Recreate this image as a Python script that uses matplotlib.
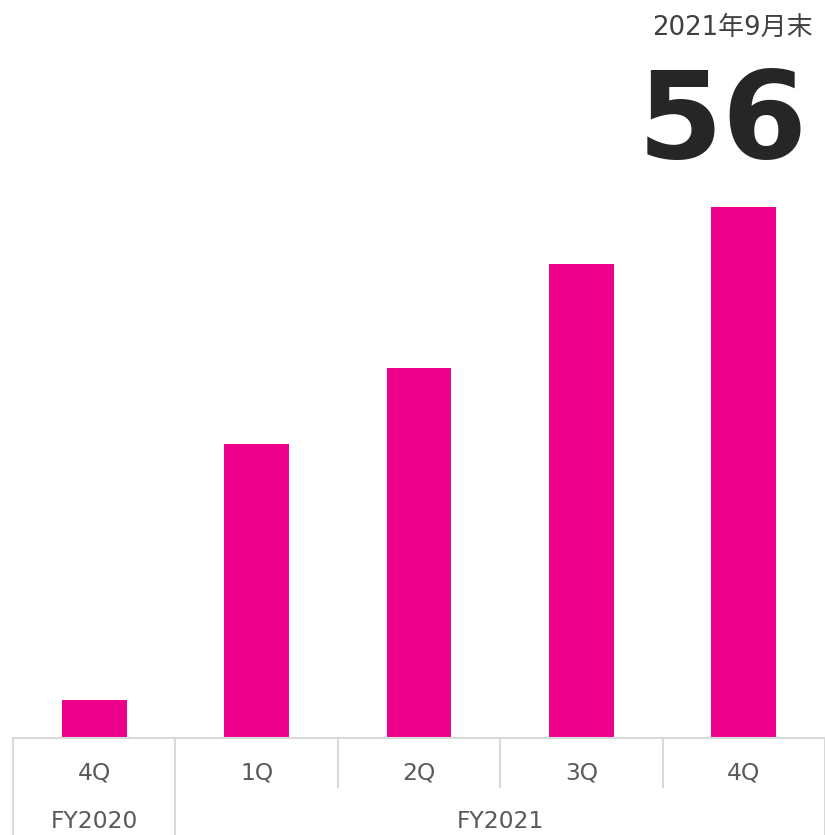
import matplotlib
matplotlib.use("Agg")
import matplotlib.pyplot as plt
from matplotlib.lines import Line2D

quarters = ["4Q", "1Q", "2Q", "3Q", "4Q"]
fiscal_years = ["FY2020", "FY2021"]
year_groups = [[0], [1, 2, 3, 4]]
values = [4, 31, 39, 50, 56]
headline_label = "2021年9月末"
headline_value = "56"

W, H = 825, 835
fig = plt.figure(figsize=(W / 100, H / 100), dpi=100)
ax_left, ax_right = 13, 825
ax_bottom, ax_top = 738, 180
ax = fig.add_axes([ax_left / W, 1 - ax_bottom / H, (ax_right - ax_left) / W, (ax_bottom - ax_top) / H])
ax_h = ax_bottom - ax_top

x = list(range(len(values)))
ax.bar(x, values, width=0.4, color="#EC008C", zorder=2)
ax.set_xlim(-0.5, len(values) - 0.5)
ax.set_ylim(0, 56 * (ax_h / 531))
ax.axis("off")

grid_c = "#d9d9d9"
tr = ax.get_xaxis_transform()
# baseline
ax.add_line(Line2D([-0.5, len(values) - 0.5], [0, 0], transform=tr, color=grid_c, lw=1.5, clip_on=False))
# separators
group_edges = {-0.5, len(values) - 0.5}
for g in year_groups:
    group_edges.add(g[0] - 0.5)
    group_edges.add(g[-1] + 0.5)
for i in range(len(values) + 1):
    xb = i - 0.5
    ylow = -97 / ax_h if xb in group_edges else -49 / ax_h
    ax.add_line(Line2D([xb, xb], [0, ylow], transform=tr, color=grid_c, lw=1.5, clip_on=False))

label_c = "#595959"
for i, q in enumerate(quarters):
    ax.text(i, -35 / ax_h, q, transform=tr, ha="center", va="center", fontsize=16.8, color=label_c,
            family="DejaVu Sans")
for fy, g in zip(fiscal_years, year_groups):
    xc = (g[0] + g[-1]) / 2
    ax.text(xc, -84 / ax_h, fy, transform=tr, ha="center", va="center", fontsize=16.8, color=label_c,
            family="DejaVu Sans")

fig.text(813 / W, 1 - 28 / H, headline_label, ha="right", va="center", fontsize=18.7, color="#404040",
         family=["DejaVu Sans", "Noto Sans CJK JP"])
fig.text(808 / W, 1 - 158 / H, headline_value, ha="right", va="baseline", fontsize=88, color="#262626",
         family="DejaVu Sans", fontweight="bold")

fig.savefig("out.png", dpi=100)
